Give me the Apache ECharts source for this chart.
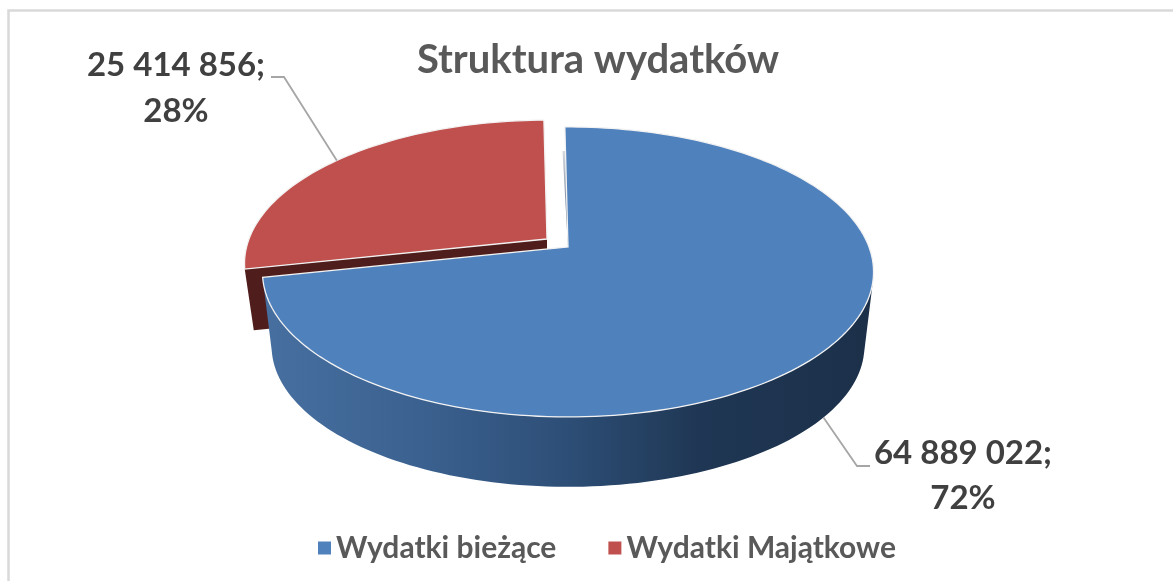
<!DOCTYPE html>
<html><head><meta charset="utf-8">
<style>html,body{margin:0;padding:0;background:#fff}#c{width:1173px;height:581px}</style>
<script src="https://cdn.jsdelivr.net/npm/echarts@6/dist/echarts.min.js"></script>
</head><body><div id="c"></div>
<script>
const categories = ['Wydatki bieżące', 'Wydatki Majątkowe'];
const values = [64889022, 25414856];
const percentLabels = ['72%', '28%'];
const valueLabels = ['64 889 022;', '25 414 856;'];
const titleText = 'Struktura wydatków';

const total = values.reduce((a, b) => a + b, 0);
const deg = Math.PI / 180;
const START = -0.7 * deg;
const K = 0.172, A = 301, B = 140.7, CX = 568, CY = 247;
// perspective projection of a unit-circle point at clockwise angle t from 12 o'clock
function proj(t, off, dy, s) {
  const u = Math.sin(t), v = -Math.cos(t);
  const w = 1 - K * v;
  return [CX + off[0] + s * A * u / w, CY + off[1] + dy + s * B * v / w];
}
function arc(t0, t1, off, dy, s) {
  const n = Math.max(4, Math.ceil(Math.abs(t1 - t0) / (1.5 * deg))), p = [];
  for (let i = 0; i <= n; i++) p.push(proj(t0 + (t1 - t0) * i / n, off, dy, s));
  return p;
}
const FRONT_SCALE = 0.97;
const blueWall = new echarts.graphic.LinearGradient(272, 0, 864, 0, [
  {offset: 0, color: '#466f9f'}, {offset: 0.25, color: '#3b6190'},
  {offset: 0.5, color: '#2d4e76'}, {offset: 0.72, color: '#1f3754'}, {offset: 1, color: '#1c304a'}
], true);
const slices = [
  {off: [0, 0], depth: 75, scale: 1, wall: blueWall},
  {off: [-21, -8], depth: 62, scale: 0.99, wall: '#4f1d1b'}
];
const anchors = [
  {top: false, elbow: [857, 466], end: [870, 466]},
  {top: true, elbow: [284, 77], end: [271, 77]}
];
const labelPos = [[963, 0], [176, 0]];
const labelY = [[453, 498], [65, 111]];

function sliceAngles(idx) {
  let a = 0;
  for (let i = 0; i < idx; i++) a += values[i];
  const t0 = START + a / total * 2 * Math.PI;
  return [t0, t0 + values[idx] / total * 2 * Math.PI];
}
function renderer(idx) {
  return function (params, api) {
    const [t0, t1] = sliceAngles(idx);
    const st = slices[idx], off = st.off, sc = st.scale, apex = [CX + off[0], CY + off[1]];
    const children = [];
    if (idx === 1) {
      // exposed cut face of the pulled-out slice
      const c = proj(t0, off, 0, sc), cb = proj(t0, off, st.depth, sc * FRONT_SCALE);
      const ab = [apex[0], apex[1] + st.depth];
      children.push({type: 'polygon', shape: {points: [apex, c, cb, ab]}, style: {fill: st.wall}});
    } else {
      // front wall
      const wt0 = Math.max(t0, 103 * deg);
      const top = arc(wt0, t1, off, 0, sc), bottom = arc(t1, wt0, off, st.depth, sc * FRONT_SCALE);
      children.push({type: 'polygon', shape: {points: top.concat(bottom)}, style: {fill: st.wall}});
      // thin sliver visible along the first cut
      const s = proj(t0, off, 0, sc);
      const q = [apex[0] + (s[0] - apex[0]) * 0.8, apex[1] + (s[1] - apex[1]) * 0.8];
      children.push({type: 'polygon', shape: {points: [apex, [q[0] - 3, q[1]], [q[0] + 2, q[1]]]},
        style: {fill: new echarts.graphic.LinearGradient(0, q[1], 0, apex[1], [{offset: 0, color: '#d5d9df'}, {offset: 1, color: '#2f4a6b'}], true)}});
    }
    const face = [apex].concat(arc(t0, t1, off, 0, sc));
    children.push({type: 'polygon', shape: {points: face},
      style: {fill: api.visual('color'), stroke: '#f2f2f2', lineWidth: 1.3, lineJoin: 'miter'}});
    // leader line
    const an = anchors[idx], tm = (t0 + t1) / 2;
    const p = an.top ? proj(tm, off, 0, sc) : proj(tm, off, st.depth, sc * FRONT_SCALE);
    children.push({type: 'polyline', shape: {points: [p, an.elbow, an.end]},
      style: {stroke: '#a6a6a6', lineWidth: 1.8, fill: null}});
    // data label
    [valueLabels[idx], percentLabels[idx]].forEach((txt, i) => {
      children.push({type: 'text', style: {text: txt, x: labelPos[idx][0], y: labelY[idx][i],
        align: 'center', verticalAlign: 'middle', fill: '#404040',
        font: 'bold 33px Lato, sans-serif'}});
    });
    return {type: 'group', children};
  };
}
const chart = echarts.init(document.getElementById('c'), null, {renderer: 'canvas'});
chart.setOption({
  animation: false,
  backgroundColor: '#ffffff',
  color: ['#4f81bd', '#c0504d'],
  title: {text: titleText, left: 593, top: 35, textAlign: 'center',
    textStyle: {color: '#595959', fontFamily: 'Lato, sans-serif', fontWeight: 'bold', fontSize: 40}},
  legend: {data: categories, left: 313, top: 528, icon: 'rect', itemWidth: 13, itemHeight: 13, itemGap: 52,
    textStyle: {color: '#595959', fontFamily: 'Lato, sans-serif', fontWeight: 'bold', fontSize: 30}},
  graphic: [{type: 'polyline', silent: true, z: -1, shape: {points: [[8.5, 581], [8.5, 10.5], [1173, 10.5]]},
    style: {fill: 'none', stroke: '#d9d9d9', lineWidth: 2.5}}],
  series: [
    {type: 'custom', name: categories[1], coordinateSystem: 'none', data: [values[1]], renderItem: renderer(1), z: 2,
      itemStyle: {color: '#c0504d'}},
    {type: 'custom', name: categories[0], coordinateSystem: 'none', data: [values[0]], renderItem: renderer(0), z: 3,
      itemStyle: {color: '#4f81bd'}}
  ]
});
</script></body></html>
